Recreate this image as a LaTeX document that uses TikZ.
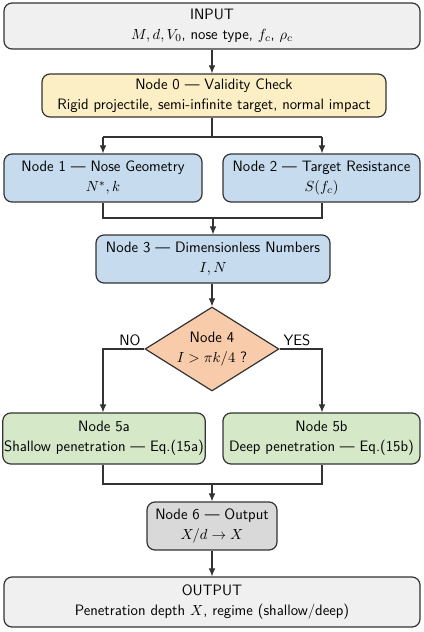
\documentclass[tikz,border=0pt]{standalone}
\usetikzlibrary{shapes.geometric,arrows.meta}
\definecolor{ioFill}{HTML}{F0F0F0}
\definecolor{yelFill}{HTML}{FCEFC5}
\definecolor{bluFill}{HTML}{C6DCEE}
\definecolor{orgFill}{HTML}{F8CCAA}
\definecolor{grnFill}{HTML}{D5E8C8}
\definecolor{gryFill}{HTML}{D9D9D9}
\definecolor{edgeCol}{HTML}{333333}
\begin{document}
\begin{tikzpicture}[x=0.75pt,y=-0.75pt,
  font=\sffamily\fontsize{11.3}{15}\selectfont,
  box/.style={draw=edgeCol,line width=0.9pt,rounded corners=6pt,align=center,inner sep=1pt},
  decision/.style={draw=edgeCol,line width=0.9pt,diamond,fill=orgFill,inner sep=0pt,minimum width=100.5pt,minimum height=63pt},
  conn/.style={draw=edgeCol,line width=0.8pt},
  arr/.style={conn,-{Latex[length=6pt,width=5pt]}},
  lbl/.style={inner sep=1pt}]
\useasboundingbox (0,0) rectangle (424,632);
\fill[white] (0,0) rectangle (424,632);

\node[box,fill=ioFill,minimum width=312pt,minimum height=34.5pt] (in) at (212,26) {INPUT\\$M, d, V_0$, nose type, $f_c$, $\rho_c$};
\node[box,fill=yelFill,minimum width=258pt,minimum height=32.25pt] (n0) at (214,95.5) {Node 0 --- Validity Check\\Rigid projectile, semi-infinite target, normal impact};
\node[box,fill=bluFill,minimum width=148.5pt,minimum height=36pt] (n1) at (103,178) {Node 1 --- Nose Geometry\\$N^{*}, k$};
\node[box,fill=bluFill,minimum width=147.75pt,minimum height=36pt] (n2) at (321.5,178) {Node 2 --- Target Resistance\\$S(f_c)$};
\node[box,fill=bluFill,minimum width=175.5pt,minimum height=36pt] (n3) at (213,259) {Node 3 --- Dimensionless Numbers\\$I, N$};
\node[decision] (n4) at (212,349) {};
\node[align=center,inner sep=0pt] (n4t) at (n4.center) {Node 4\\$I > \pi k/4$ ?};
\node[box,fill=grnFill,minimum width=150pt,minimum height=38.25pt] (n5a) at (104,438.5) {Node 5a\\Shallow penetration --- Eq.(15a)};
\node[box,fill=grnFill,minimum width=147.75pt,minimum height=38.25pt] (n5b) at (321.5,438.5) {Node 5b\\Deep penetration --- Eq.(15b)};
\node[box,fill=gryFill,minimum width=97.5pt,minimum height=36pt] (n6) at (212,526) {Node 6 --- Output\\$X/d \to X$};
\node[box,fill=ioFill,minimum width=312pt,minimum height=37.5pt] (out) at (212,602) {OUTPUT\\Penetration depth $X$, regime (shallow/deep)};

\coordinate (s0) at (212,137);
\coordinate (s0l) at (103,137);
\coordinate (s0r) at (322,137);
\coordinate (m1) at (103,218);
\coordinate (m2) at (322,218);
\coordinate (m3) at (213,218);
\coordinate (dl) at (103,349);
\coordinate (dr) at (322,349);
\coordinate (m5a) at (103,484);
\coordinate (m5b) at (322,484);
\coordinate (m6) at (212,484);

\draw[arr] (in.south) -- (in.south |- n0.north);
\draw[conn] (n0.south -| s0) -- (s0);
\draw[conn] (s0l) -- (s0r);
\draw[arr] (s0l) -- (n1.north -| s0l);
\draw[arr] (s0r) -- (n2.north -| s0r);
\draw[conn] (n1.south -| m1) -- (m1) -- (m2) -- (n2.south -| m2);
\draw[arr] (m3) -- (n3.north);
\draw[arr] (n3.south -| n4.north) -- (n4.north);
\draw[arr] (n4.west) -- (dl) -- (n5a.north -| dl);
\draw[arr] (n4.east) -- (dr) -- (n5b.north -| dr);
\node[lbl] (no) at (130,340) {NO};
\node[lbl] (yes) at (297,340) {YES};
\draw[conn] (n5a.south -| m5a) -- (m5a) -- (m5b) -- (n5b.south -| m5b);
\draw[arr] (m6) -- (n6.north);
\draw[arr] (n6.south) -- (out.north);
\end{tikzpicture}
\end{document}
